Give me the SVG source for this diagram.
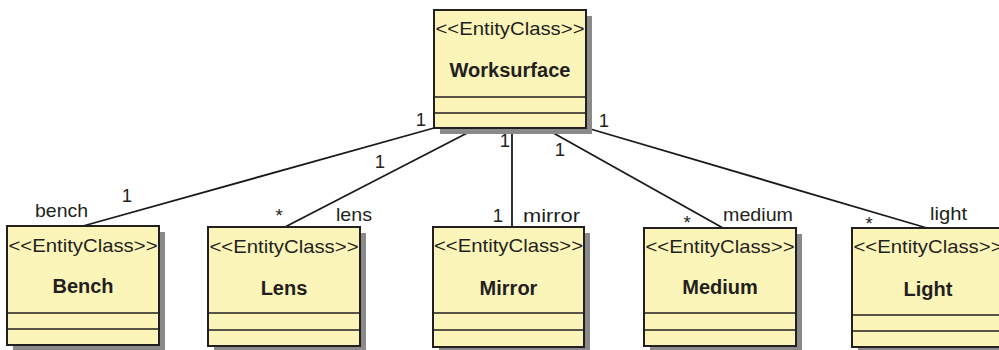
<svg xmlns="http://www.w3.org/2000/svg" width="999" height="350" viewBox="0 0 999 350">
<style>
.shadow{fill:#8a8a8a}
.box{fill:#fcf5b9;stroke:#231f20;stroke-width:2}
.div{stroke:#231f20;stroke-width:1.6}
.st{font-family:"Liberation Sans",Arial,sans-serif;font-size:18.5px;fill:#231f20;text-anchor:middle}
.nm{font-family:"Liberation Sans",Arial,sans-serif;font-size:20px;font-weight:bold;fill:#231f20;text-anchor:middle}
.lb{font-family:"Liberation Sans",Arial,sans-serif;font-size:18.5px;fill:#231f20}
.conn line{stroke:#1a1a1a;stroke-width:1.8}
</style>
<rect width="999" height="350" fill="#ffffff"/>
<g class="conn" id="connectors">
<line x1="434" y1="128" x2="83" y2="226"/>
<line x1="473" y1="130" x2="285" y2="227"/>
<line x1="512" y1="130" x2="512" y2="227"/>
<line x1="548" y1="130" x2="723" y2="228"/>
<line x1="587" y1="128" x2="927" y2="228"/>
</g>
<g id="labels">
<text class="lb" x="421" y="126" text-anchor="middle">1</text>
<text class="lb" x="380" y="168" text-anchor="middle">1</text>
<text class="lb" x="505" y="147" text-anchor="middle">1</text>
<text class="lb" x="560" y="156" text-anchor="middle">1</text>
<text class="lb" x="604" y="127" text-anchor="middle">1</text>
<text class="lb" x="127" y="202" text-anchor="middle">1</text>
<text class="lb" x="35" y="217" textLength="53" lengthAdjust="spacingAndGlyphs">bench</text>
<text class="lb" x="279" y="222" text-anchor="middle">*</text>
<text class="lb" x="336" y="221" textLength="36" lengthAdjust="spacingAndGlyphs">lens</text>
<text class="lb" x="498" y="222" text-anchor="middle">1</text>
<text class="lb" x="523" y="222" textLength="57" lengthAdjust="spacingAndGlyphs">mirror</text>
<text class="lb" x="687" y="229" text-anchor="middle">*</text>
<text class="lb" x="723" y="221" textLength="70" lengthAdjust="spacingAndGlyphs">medium</text>
<text class="lb" x="869" y="230" text-anchor="middle">*</text>
<text class="lb" x="930" y="220" textLength="37" lengthAdjust="spacingAndGlyphs">light</text>
</g>
<g id="worksurface">
<rect class="shadow" x="440" y="16" width="152" height="118"/>
<rect class="box" x="434" y="10" width="152" height="118"/>
<line class="div" x1="434" y1="97" x2="586" y2="97"/>
<line class="div" x1="434" y1="113" x2="586" y2="113"/>
<text class="st" x="510" y="35" textLength="149" lengthAdjust="spacingAndGlyphs">&lt;&lt;EntityClass&gt;&gt;</text>
<text class="nm" x="510" y="77">Worksurface</text>
</g>
<g id="bench">
<rect class="shadow" x="13" y="232" width="152" height="119"/>
<rect class="box" x="7" y="226" width="152" height="119"/>
<line class="div" x1="7" y1="313" x2="159" y2="313"/>
<line class="div" x1="7" y1="329" x2="159" y2="329"/>
<text class="st" x="83" y="252" textLength="149" lengthAdjust="spacingAndGlyphs">&lt;&lt;EntityClass&gt;&gt;</text>
<text class="nm" x="83" y="293">Bench</text>
</g>
<g id="lens">
<rect class="shadow" x="214" y="233" width="152" height="119"/>
<rect class="box" x="208" y="227" width="152" height="119"/>
<line class="div" x1="208" y1="313" x2="360" y2="313"/>
<line class="div" x1="208" y1="330" x2="360" y2="330"/>
<text class="st" x="284" y="253" textLength="149" lengthAdjust="spacingAndGlyphs">&lt;&lt;EntityClass&gt;&gt;</text>
<text class="nm" x="284" y="295">Lens</text>
</g>
<g id="mirror">
<rect class="shadow" x="439" y="233" width="151" height="120"/>
<rect class="box" x="433" y="227" width="151" height="120"/>
<line class="div" x1="433" y1="313" x2="584" y2="313"/>
<line class="div" x1="433" y1="330" x2="584" y2="330"/>
<text class="st" x="508.5" y="252" textLength="149" lengthAdjust="spacingAndGlyphs">&lt;&lt;EntityClass&gt;&gt;</text>
<text class="nm" x="508.5" y="295">Mirror</text>
</g>
<g id="medium">
<rect class="shadow" x="650" y="234" width="152" height="118"/>
<rect class="box" x="644" y="228" width="152" height="118"/>
<line class="div" x1="644" y1="313" x2="796" y2="313"/>
<line class="div" x1="644" y1="330" x2="796" y2="330"/>
<text class="st" x="720" y="253" textLength="149" lengthAdjust="spacingAndGlyphs">&lt;&lt;EntityClass&gt;&gt;</text>
<text class="nm" x="720" y="294">Medium</text>
</g>
<g id="light">
<rect class="shadow" x="858" y="234" width="152" height="119"/>
<rect class="box" x="852" y="228" width="152" height="119"/>
<line class="div" x1="852" y1="315" x2="1004" y2="315"/>
<line class="div" x1="852" y1="331" x2="1004" y2="331"/>
<text class="st" x="928" y="253" textLength="149" lengthAdjust="spacingAndGlyphs">&lt;&lt;EntityClass&gt;&gt;</text>
<text class="nm" x="928" y="296">Light</text>
</g>
</svg>
